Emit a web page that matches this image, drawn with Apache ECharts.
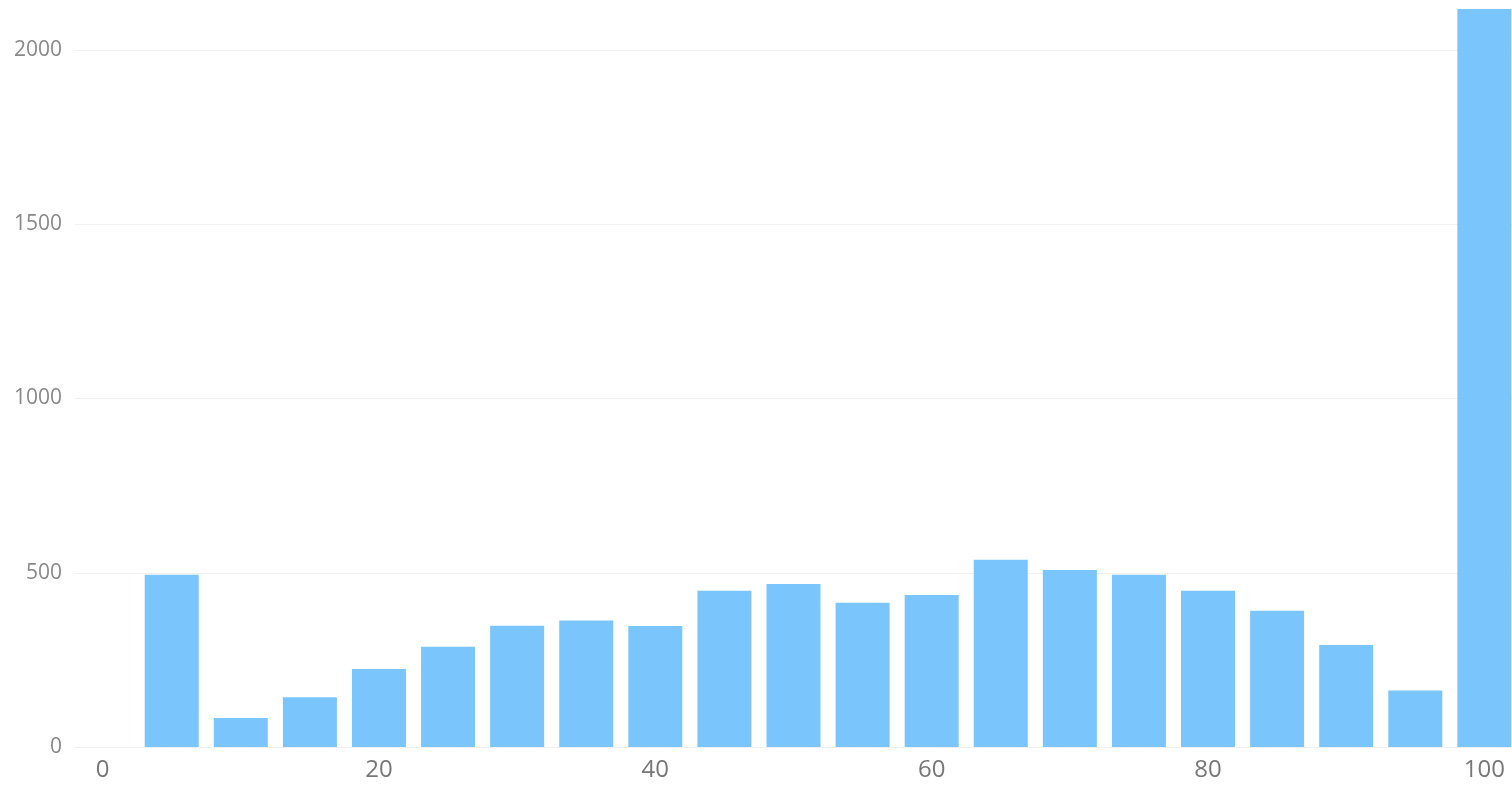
<!DOCTYPE html>
<html>
<head>
<meta charset="utf-8">
<script src="https://cdn.jsdelivr.net/npm/echarts@6/dist/echarts.min.js"></script>
<style>
  html, body { margin: 0; padding: 0; background: #fff; }
  #chart { width: 1512px; height: 787px; }
</style>
</head>
<body>
<div id="chart"></div>
<script>
// bin centres and counts
const bins = [5, 10, 15, 20, 25, 30, 35, 40, 45, 50, 55, 60, 65, 70, 75, 80, 85, 90, 95, 100];
const counts = [494, 83, 143, 224, 288, 348, 363, 347, 448, 468, 414, 436, 537, 508, 494, 448, 391, 293, 162, 2118];
const xTicks = [0, 20, 40, 60, 80, 100];
const yTicks = [0, 500, 1000, 1500, 2000];

const chart = echarts.init(document.getElementById('chart'));
window.addEventListener('resize', () => { chart.resize(); });

chart.setOption({
  animation: false,
  grid: { left: 75, right: 0, top: 50, bottom: 40 },
  xAxis: {
    type: 'value',
    min: -2,
    max: 102,
    axisLine: { show: false },
    axisTick: { show: false },
    splitLine: { show: false },
    axisLabel: {
      customValues: xTicks,
      fontFamily: 'Open Sans',
      fontSize: 24,
      color: '#777',
      margin: 11
    }
  },
  yAxis: {
    type: 'value',
    min: yTicks[0],
    max: yTicks[yTicks.length - 1],
    interval: 500,
    axisLine: { show: false },
    axisTick: { show: false },
    splitLine: { lineStyle: { color: '#f0f0f0', width: 1 } },
    axisLabel: {
      formatter: v => String(v),
      fontFamily: 'Open Sans',
      fontSize: 21,
      color: '#888',
      margin: 13
    }
  },
  series: [{
    type: 'bar',
    clip: false,
    barWidth: 54,
    itemStyle: { color: '#7ac6fc' },
    data: bins.map((b, i) => [b, counts[i]])
  }]
});
</script>
</body>
</html>
